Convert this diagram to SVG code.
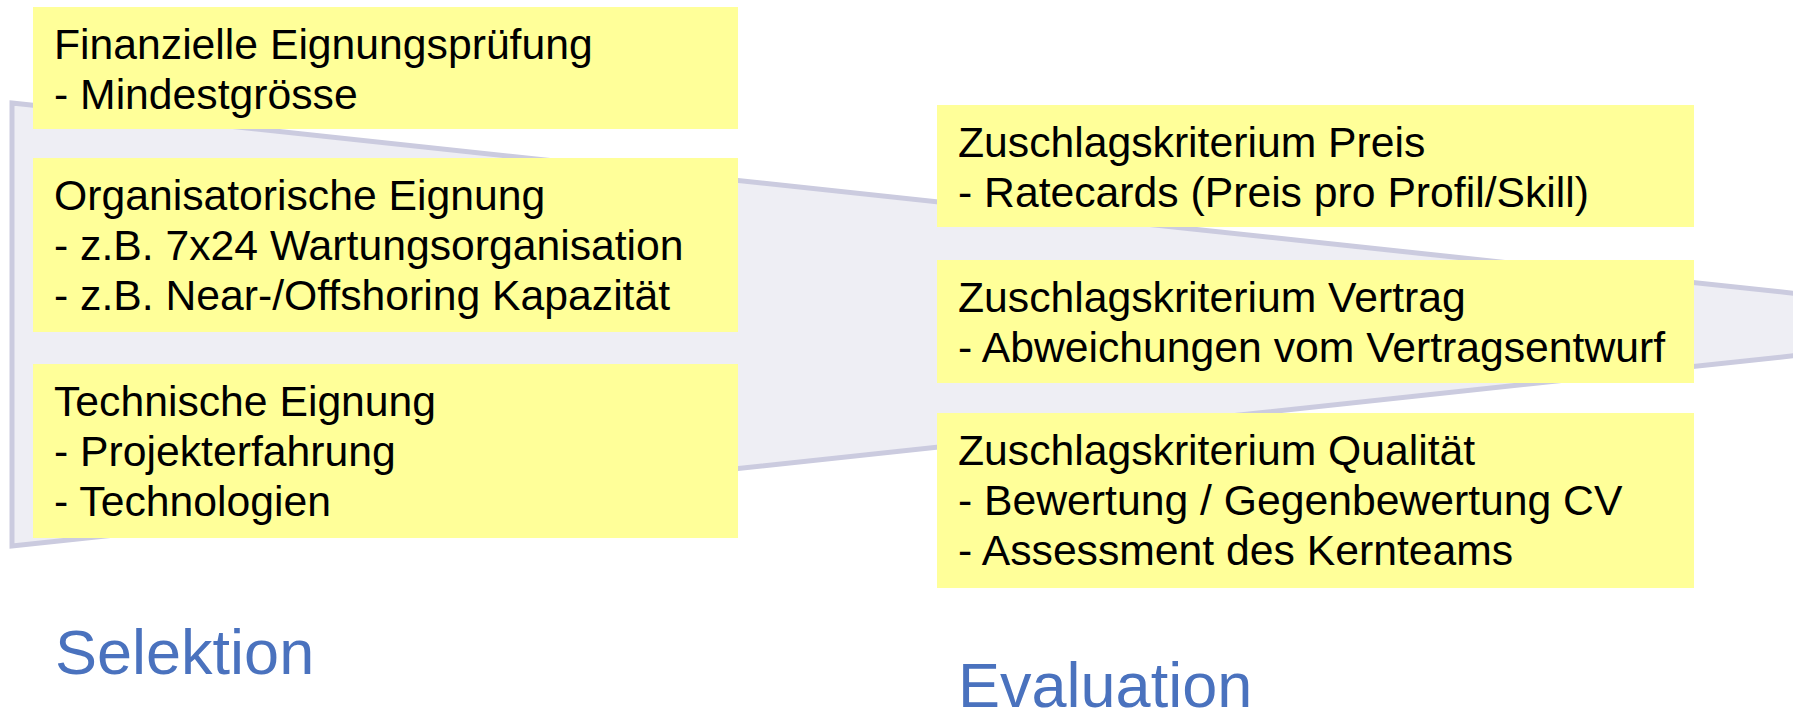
<svg xmlns="http://www.w3.org/2000/svg" width="1793" height="712" viewBox="0 0 1793 712">
<style>
.box{fill:#FFFF99;}
.t{font-family:"Liberation Sans",Arial,sans-serif;font-size:42.7px;fill:#000;}
.lbl{font-family:"Liberation Sans",Arial,sans-serif;font-size:63px;fill:#4A72BE;}
.funnel{fill:#EEEEF4;stroke:#CBCBDF;stroke-width:5;stroke-linejoin:miter;}
</style>
<rect width="1793" height="712" fill="#FFFFFF"/>
<g id="funnel">
<polygon class="funnel" points="12,103 1810,295 1810,354 12,546"/>
</g>
<g id="connectors"></g>
<g id="finanzielle">
<rect class="box" x="33" y="7" width="705" height="122"/>
<text class="t" x="54" y="59">Finanzielle Eignungsprüfung</text>
<text class="t" x="54" y="109">- Mindestgrösse</text>
</g>
<g id="organisatorische">
<rect class="box" x="33" y="158" width="705" height="174"/>
<text class="t" x="54" y="210">Organisatorische Eignung</text>
<text class="t" x="54" y="260">- z.B. 7x24 Wartungsorganisation</text>
<text class="t" x="54" y="310">- z.B. Near-/Offshoring Kapazität</text>
</g>
<g id="technische">
<rect class="box" x="33" y="364" width="705" height="174"/>
<text class="t" x="54" y="416">Technische Eignung</text>
<text class="t" x="54" y="466">- Projekterfahrung</text>
<text class="t" x="54" y="516">- Technologien</text>
</g>
<g id="preis">
<rect class="box" x="937" y="105" width="757" height="122"/>
<text class="t" x="958" y="157">Zuschlagskriterium Preis</text>
<text class="t" x="958" y="207">- Ratecards (Preis pro Profil/Skill)</text>
</g>
<g id="vertrag">
<rect class="box" x="937" y="260" width="757" height="123"/>
<text class="t" x="958" y="312">Zuschlagskriterium Vertrag</text>
<text class="t" x="958" y="362">- Abweichungen vom Vertragsentwurf</text>
</g>
<g id="qualitaet">
<rect class="box" x="937" y="413" width="757" height="175"/>
<text class="t" x="958" y="465">Zuschlagskriterium Qualität</text>
<text class="t" x="958" y="515">- Bewertung / Gegenbewertung CV</text>
<text class="t" x="958" y="565">- Assessment des Kernteams</text>
</g>
<g id="selektion">
<text class="lbl" x="55" y="674">Selektion</text>
</g>
<g id="evaluation">
<text class="lbl" x="958" y="707">Evaluation</text>
</g>
</svg>
